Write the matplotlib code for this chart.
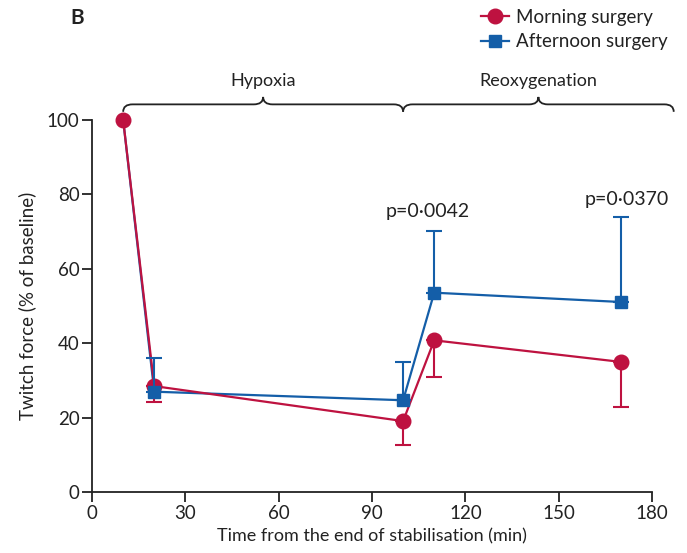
import numpy as np
import matplotlib.pyplot as plt
from matplotlib.path import Path
from matplotlib.patches import PathPatch

plt.rcParams['font.family'] = ['Lato', 'DejaVu Sans']

# dati
tempo = [10, 20, 100, 110, 170]
mattina = [100, 28.5, 19.1, 40.8, 35.0]
mattina_err = [0, 4.2, 6.3, 9.8, 12.0]      # solo verso il basso
pomeriggio = [100, 27.0, 24.7, 53.6, 51.1]
pomeriggio_err = [0, 9.0, 10.4, 16.5, 22.9]  # solo verso l'alto
etichette_p = ['p=0·0042', 'p=0·0370']
pos_p = [(108, 75.3), (172, 78.7)]
fasi = ['Hypoxia', 'Reoxygenation']
fasi_lim = [(10, 100), (100, 187)]

rosso = '#BE1240'
blu = '#145EA8'


def graffa(ax, x0, x1, yb, h, r):
    '''Disegna una parentesi graffa orizzontale tra x0 e x1 con la punta verso l'alto'''
    xm = (x0 + x1) / 2
    verts = [(x0, yb - h), (x0, yb), (x0 + r, yb),
             (xm - r, yb),
             (xm, yb), (xm, yb + h),
             (xm, yb), (xm + r, yb),
             (x1 - r, yb),
             (x1, yb), (x1, yb - h)]
    codes = [Path.MOVETO, Path.CURVE3, Path.CURVE3,
             Path.LINETO,
             Path.CURVE3, Path.CURVE3,
             Path.CURVE3, Path.CURVE3,
             Path.LINETO,
             Path.CURVE3, Path.CURVE3]
    p = PathPatch(Path(verts, codes), fill=False, lw=1.3, color='#222222',
                  transform=ax.transData, clip_on=False)
    ax.add_patch(p)


fig = plt.figure(figsize=(6.87, 5.53), dpi=100)
ax = fig.add_axes([0.134, 0.110, 0.815, 0.673])

zeri = np.zeros(len(tempo))
ax.plot(tempo, pomeriggio, color=blu, lw=1.6, zorder=2, clip_on=False)
ax.plot(tempo, mattina, color=rosso, lw=1.6, zorder=3, clip_on=False)
ax.errorbar(tempo, mattina, yerr=[mattina_err, zeri], fmt='none', ecolor=rosso,
            elinewidth=1.5, capsize=6, capthick=1.5, errorevery=(1, 1), zorder=3.5)
ax.plot(tempo, mattina, 'o', color=rosso, ms=10.5, zorder=4, clip_on=False)
ax.errorbar(tempo, pomeriggio, yerr=[zeri, pomeriggio_err], fmt='none', ecolor=blu,
            elinewidth=1.5, capsize=6, capthick=1.5, errorevery=(1, 1), zorder=4.5)
ax.plot(tempo, pomeriggio, 's', color=blu, ms=8.5, markevery=(1, 1), zorder=5, clip_on=False)

for testo, (xp, yp) in zip(etichette_p, pos_p):
    ax.text(xp, yp, testo, ha='center', va='center', fontsize=14, color='#222222')

for nome, (a, b) in zip(fasi, fasi_lim):
    graffa(ax, a, b, 104.2, 2.0, 3)
    ax.text((a + b) / 2, 108.3, nome, ha='center', va='bottom', fontsize=13,
            color='#222222', clip_on=False)

ax.set_xlim(0, 180)
ax.set_ylim(0, 100)
ax.set_xticks(np.arange(0, 181, 30))
ax.set_yticks(np.arange(0, 101, 20))
ax.spines['top'].set_visible(False)
ax.spines['right'].set_visible(False)
for s in ['left', 'bottom']:
    ax.spines[s].set_linewidth(1.3)
    ax.spines[s].set_color('#222222')
ax.tick_params(axis='both', direction='out', length=7, width=1.3, color='#222222',
               labelsize=13.5, labelcolor='#222222', pad=2)
ax.set_xlabel('Time from the end of stabilisation (min)', fontsize=13, color='#222222', labelpad=5)
ax.set_ylabel('Twitch force (% of baseline)', fontsize=13.5, color='#222222', labelpad=8)

h1, = ax.plot([], [], '-o', color=rosso, lw=1.6, ms=10.5)
h2, = ax.plot([], [], '-s', color=blu, lw=1.6, ms=8.5)
fig.legend([h1, h2], ['Morning surgery', 'Afternoon surgery'], loc='upper right',
           bbox_to_anchor=(0.997, 1.015), frameon=False, fontsize=13.5,
           handlelength=1.5, handletextpad=0.4, labelspacing=0.42, labelcolor='#222222')

fig.text(0.102, 0.967, 'B', fontsize=15, fontweight='bold', color='#222222', va='center')

fig.savefig('out.png')
